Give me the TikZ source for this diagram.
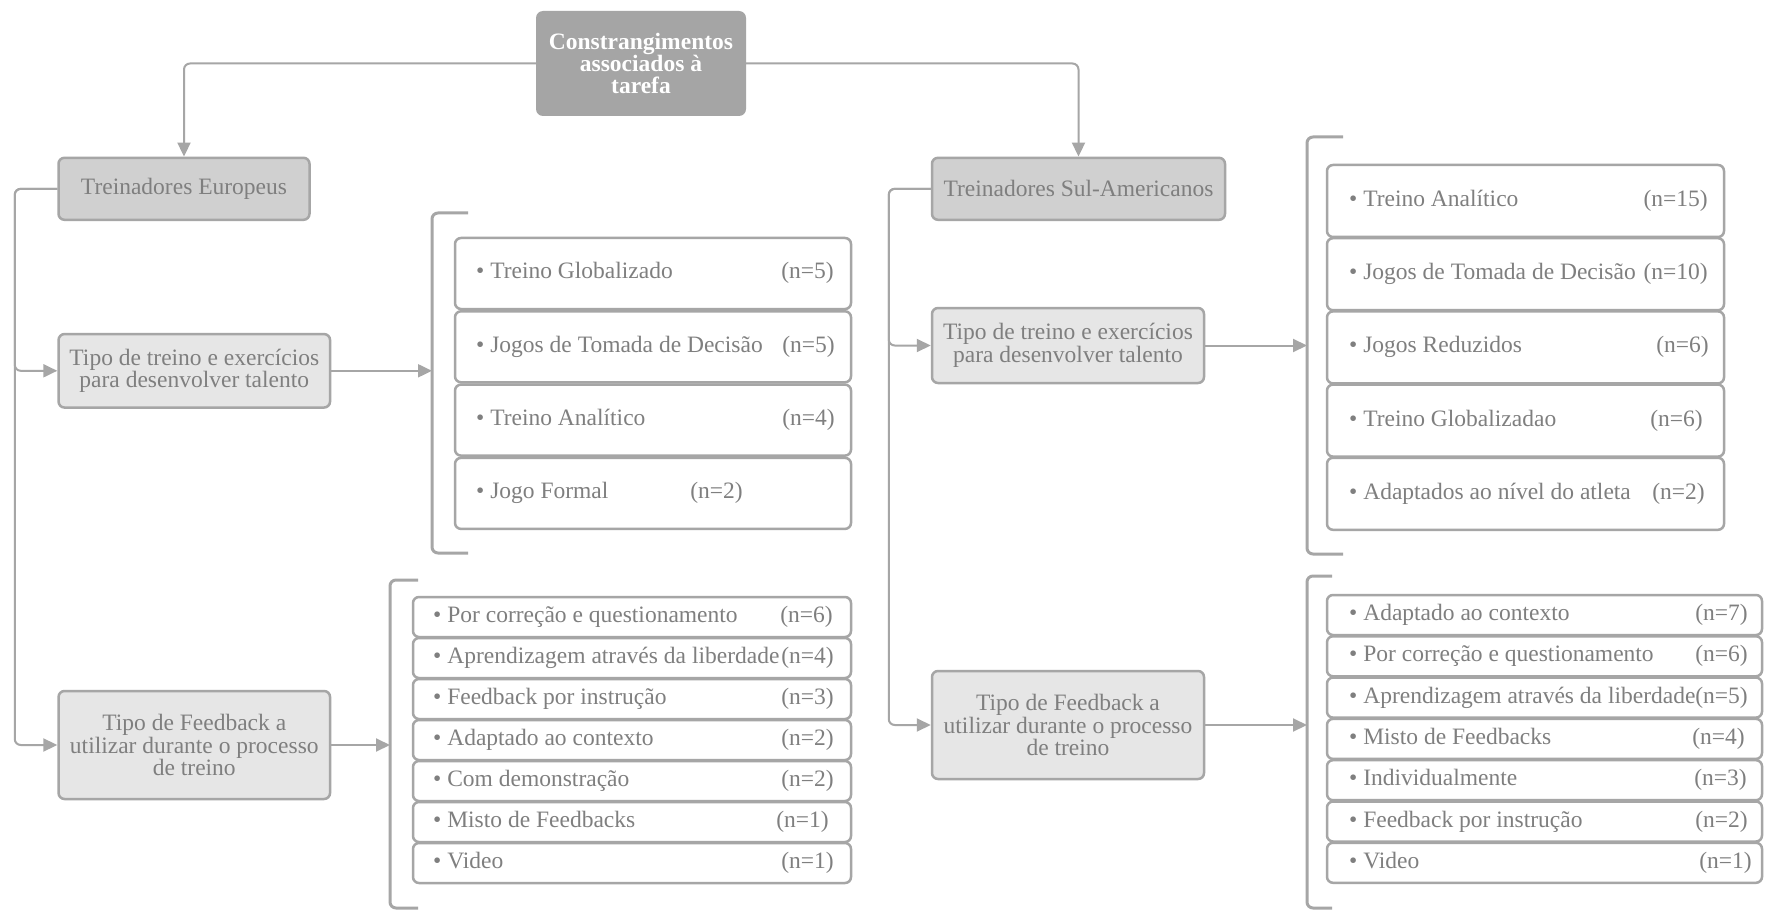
\documentclass[tikz,border=0pt]{standalone}
\usepackage{fontspec}
\setmainfont{Liberation Serif}
\usetikzlibrary{arrows.meta}
\definecolor{linegray}{HTML}{A6A6A6}
\definecolor{rootfill}{HTML}{A5A5A5}
\definecolor{coachfill}{HTML}{D0D0D0}
\definecolor{topicfill}{HTML}{E6E6E6}
\definecolor{textgray}{HTML}{7F7F7F}

\begin{document}
\begin{tikzpicture}[x=1pt,y=-1pt,
  every node/.style={font=\fontsize{23.5}{22.5}\selectfont, text=textgray},
  conn/.style={draw=linegray, line width=2pt, rounded corners=6pt},
  arr/.style={conn, -{Triangle[length=14pt,width=13pt]}},
  brace/.style={draw=linegray, line width=3pt, rounded corners=6pt},
  box/.style={draw=linegray, line width=2.5pt, rounded corners=6pt, inner sep=0pt, align=center},
  rootbox/.style={fill=rootfill, rounded corners=7pt, inner sep=0pt, align=center,
    text=white, font=\bfseries\fontsize{23.5}{22}\selectfont},
  coachbox/.style={box, fill=coachfill},
  topicbox/.style={box, fill=topicfill},
  itembox/.style={box, fill=white},
  itemtext/.style={inner sep=0pt, text height=16pt, text depth=5pt},
]
\useasboundingbox[fill=white] (0,0) rectangle (1765,912);

% root and the two coach groups
\node[rootbox, minimum width=210pt, minimum height=105pt] (root) at (641,63.5)
  {Constrangimentos\\associados à\\tarefa};
\node[coachbox, minimum width=251pt, minimum height=62pt] (te) at (184,188.8)
  {Treinadores Europeus};
\node[coachbox, minimum width=293pt, minimum height=62pt] (tsa) at (1078.5,188.8)
  {Treinadores Sul-Americanos};

% topic boxes
\node[topicbox, minimum width=271.5pt, minimum height=73.5pt] (et) at (194.3,370.8)
  {Tipo de treino e exercícios\\para desenvolver talento};
\node[topicbox, minimum width=271.5pt, minimum height=108pt] (ef) at (194.3,745)
  {Tipo de Feedback a\\utilizar durante o processo\\de treino};
\node[topicbox, minimum width=272pt, minimum height=75pt] (st) at (1068,345.5)
  {Tipo de treino e exercícios\\para desenvolver talento};
\node[topicbox, minimum width=272pt, minimum height=108pt] (sf) at (1068,725)
  {Tipo de Feedback a\\utilizar durante o processo\\de treino};

% connectors from the root
\draw[arr] (root.west) -| (te.north);
\draw[arr] (root.east) -| (tsa.north);

% spines
\draw[arr] (te.west) -- ++(-42.5,0) |- (et.west);
\draw[arr] (te.west) -- ++(-42.5,0) |- (ef.west);
\draw[arr] (tsa.west) -- ++(-42,0) |- (st.west);
\draw[arr] (tsa.west) -- ++(-42,0) |- (sf.west);

% brackets grouping the lists
\coordinate (etbr) at (432,370.8);
\coordinate (efbr) at (390,745);
\coordinate (stbr) at (1307,345.5);
\coordinate (sfbr) at (1307,725);
\draw[brace] (468,213) -- (432,213) -- (432,553) -- (468,553);
\draw[brace] (418,580) -- (390,580) -- (390,908) -- (418,908);
\draw[brace] (1343,137) -- (1307,137) -- (1307,554) -- (1343,554);
\draw[brace] (1332,576) -- (1307,576) -- (1307,908) -- (1332,908);

\draw[arr] (et.east) -- (et.east -| etbr);
\draw[arr] (ef.east) -- (ef.east -| efbr);
\draw[arr] (st.east) -- (st.east -| stbr);
\draw[arr] (sf.east) -- (sf.east -| sfbr);

% European training list
\foreach \lab/\cnt/\cx [count=\i] in {
  Treino Globalizado/(n=5)/834,
  Jogos de Tomada de Decisão/(n=5)/835,
  Treino Analítico/(n=4)/835,
  Jogo Formal/(n=2)/743} {
  \pgfmathsetmacro\yc{238+35.5+73.3*(\i-1)}
  \node[itembox, minimum width=396pt, minimum height=71pt] (ea\i) at (653,\yc) {};
  \node[itemtext, anchor=west] (ea\i l) at (476,\yc) {• \lab};
  \node[itemtext, anchor=east] (ea\i n) at (\cx,\yc) {\cnt};
}

% European feedback list
\foreach \lab/\cnt/\cx [count=\i] in {
  Por correção e questionamento/(n=6)/833,
  Aprendizagem através da liberdade/(n=4)/834,
  Feedback por instrução/(n=3)/834,
  Adaptado ao contexto/(n=2)/834,
  Com demonstração/(n=2)/834,
  Misto de Feedbacks/(n=1)/829,
  Video/(n=1)/834} {
  \pgfmathsetmacro\yc{597+20+41*(\i-1)}
  \node[itembox, minimum width=438pt, minimum height=40pt] (eb\i) at (632,\yc) {};
  \node[itemtext, anchor=west] (eb\i l) at (433,\yc) {• \lab};
  \node[itemtext, anchor=east] (eb\i n) at (\cx,\yc) {\cnt};
}

% South American training list
\foreach \lab/\cnt/\cx [count=\i] in {
  Treino Analítico/(n=15)/1708,
  Jogos de Tomada de Decisão/(n=10)/1708,
  Jogos Reduzidos/(n=6)/1709,
  Treino Globalizadao/(n=6)/1703,
  Adaptados ao nível do atleta/(n=2)/1705} {
  \pgfmathsetmacro\yc{165+36+73.2*(\i-1)}
  \node[itembox, minimum width=397pt, minimum height=72pt] (sa\i) at (1525.5,\yc) {};
  \node[itemtext, anchor=west] (sa\i l) at (1349,\yc) {• \lab};
  \node[itemtext, anchor=east] (sa\i n) at (\cx,\yc) {\cnt};
}

% South American feedback list
\foreach \lab/\cnt/\cx [count=\i] in {
  Adaptado ao contexto/(n=7)/1748,
  Por correção e questionamento/(n=6)/1748,
  Aprendizagem através da liberdade/(n=5)/1748,
  Misto de Feedbacks/(n=4)/1745,
  Individualmente/(n=3)/1747,
  Feedback por instrução/(n=2)/1748,
  Video/(n=1)/1752} {
  \pgfmathsetmacro\yc{595+20+41.3*(\i-1)}
  \node[itembox, minimum width=435pt, minimum height=40pt] (sb\i) at (1544.5,\yc) {};
  \node[itemtext, anchor=west] (sb\i l) at (1349,\yc) {• \lab};
  \node[itemtext, anchor=east] (sb\i n) at (\cx,\yc) {\cnt};
}
\end{tikzpicture}
\end{document}
